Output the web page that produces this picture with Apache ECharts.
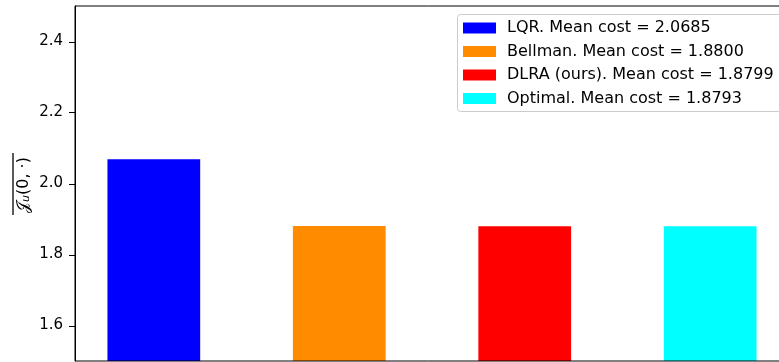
<!DOCTYPE html>
<html>
<head>
<meta charset="utf-8">
<style>
  html, body { margin: 0; padding: 0; background: #fff; }
  #chart { width: 779px; height: 362px; }
</style>
<script src="https://cdn.jsdelivr.net/npm/echarts@6/dist/echarts.min.js"></script>
</head>
<body>
<div id="chart"></div>
<script>
// Mean cost per controller
const methods = ['LQR', 'Bellman', 'DLRA (ours)', 'Optimal'];
const meanCosts = [2.0685, 1.8800, 1.8799, 1.8793];
const barColors = ['#0000ff', '#ff8c00', '#ff0000', '#00ffff'];
const yTicks = [1.6, 1.8, 2.0, 2.2, 2.4];

const FONT = 'DejaVu Sans';
const X_MIN = -0.425, X_MAX = 3.425;
const chart = echarts.init(document.getElementById('chart'), null, { renderer: 'canvas' });

const legendNames = methods.map((m, i) => m + '. Mean cost = ' + meanCosts[i].toFixed(4));

const series = methods.map((m, i) => ({
  name: legendNames[i],
  type: 'bar',
  data: [[i, meanCosts[i]]],
  barWidth: 92.75,
  barGap: '-100%',
  itemStyle: { color: barColors[i] },
  emphasis: { disabled: true },
  z: 1
}));

// outward tick marks on the left spine, placed through the y scale
series.push({
  type: 'custom',
  name: 'yticks',
  clip: false,
  silent: true,
  z: 4,
  data: yTicks.map(v => [X_MIN, v]),
  renderItem: (params, api) => {
    const p = api.coord([api.value(0), api.value(1)]);
    const y = Math.round(p[1]) + 0.5;
    return {
      type: 'line',
      shape: { x1: p[0] - 6, y1: y, x2: p[0], y2: y },
      style: { stroke: '#000', lineWidth: 1 }
    };
  }
});

chart.setOption({
  animation: false,
  backgroundColor: '#fff',
  grid: {
    left: 75, width: 714, top: 6, height: 355,
    outerBoundsMode: 'none',
    show: true, borderColor: '#000', borderWidth: 1, backgroundColor: 'transparent',
    z: 3
  },
  xAxis: {
    type: 'value', min: X_MIN, max: X_MAX,
    axisLine: { show: false, onZero: false }, axisTick: { show: false },
    axisLabel: { show: false }, splitLine: { show: false }
  },
  yAxis: {
    type: 'value', min: 1.5, max: 2.5,
    axisLine: { show: true, onZero: false, lineStyle: { color: '#000', width: 1 } },
    axisTick: { show: false },
    axisLabel: {
      customValues: yTicks, margin: 12,
      formatter: v => v.toFixed(1),
      fontFamily: FONT, fontSize: 15, color: '#000'
    },
    splitLine: { show: false },
    z: 4
  },
  legend: {
    data: legendNames,
    orient: 'vertical', left: 457, top: 14,
    padding: [6, 14, 6, 6],
    itemWidth: 33, itemHeight: 11, itemGap: 7.5,
    icon: 'rect',
    backgroundColor: 'transparent', borderWidth: 0,
    textStyle: { fontFamily: FONT, fontSize: 16, color: '#000', lineHeight: 16, padding: [0, 0, 0, 6] },
    selectedMode: false,
    z: 6
  },
  graphic: [
    {
      // legend frame
      type: 'rect', z: 5,
      shape: { x: 457.5, y: 14.5, width: 340, height: 97, r: 3 },
      style: { fill: 'rgba(255,255,255,0.8)', stroke: '#cccccc', lineWidth: 1 }
    },
    {
      type: 'text', x: 22, y: 185, rotation: Math.PI / 2,
      style: {
        text: '{j|𝒥}{s|u}{p|(0, ·)}',
        align: 'center', verticalAlign: 'middle',
        rich: {
          j: { fontFamily: FONT, fontSize: 16, fill: '#000', verticalAlign: 'bottom', lineHeight: 20 },
          s: { fontFamily: FONT, fontSize: 11, fill: '#000', fontStyle: 'italic', verticalAlign: 'bottom', lineHeight: 16 },
          p: { fontFamily: FONT, fontSize: 16, fill: '#000', verticalAlign: 'bottom', lineHeight: 20 }
        }
      }
    },
    {
      type: 'line',
      shape: { x1: 13, y1: 153, x2: 13, y2: 215 },
      style: { stroke: '#000', lineWidth: 1.3 }
    }
  ],
  series: series
});
</script>
</body>
</html>
